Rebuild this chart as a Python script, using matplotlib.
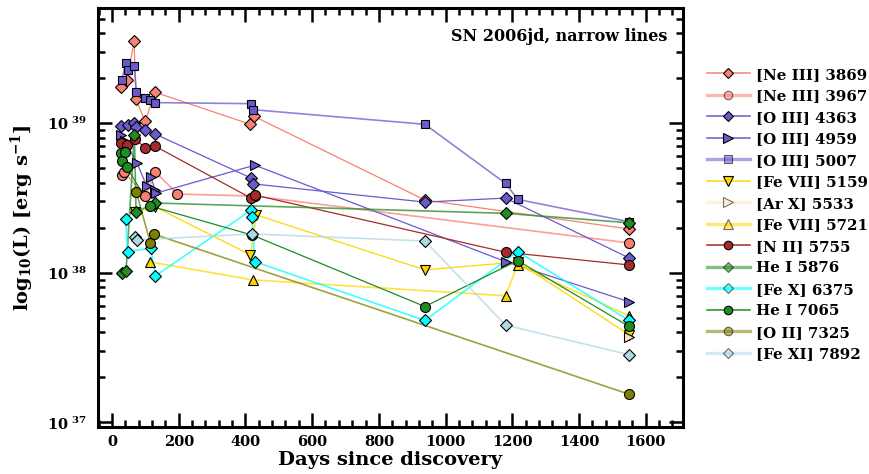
import numpy as np
import matplotlib
matplotlib.use("Agg")
import matplotlib.pyplot as plt
from matplotlib.ticker import FixedLocator, LogLocator, NullFormatter, MultipleLocator, FuncFormatter
from matplotlib.lines import Line2D

plt.rcParams['font.family'] = ['DejaVu Serif']
plt.rcParams['font.weight'] = 'bold'
plt.rcParams['mathtext.fontset'] = 'dejavuserif'

# ---- data: days since discovery and log10 luminosity ----
neiii3869_days = [27, 45, 66, 72, 99, 129, 415, 425, 938, 1550]
neiii3869_logL = [39.24, 39.29, 39.547, 39.16, 39.013, 39.207, 38.993, 39.047, 38.487, 38.293]

neiii3967_days = [29, 36, 100, 130, 196, 428, 1550]
neiii3967_logL = [38.653, 38.675, 38.515, 38.675, 38.527, 38.513, 38.2]

oiii4363_days = [27, 47, 67, 73, 100, 130, 418, 422, 938, 1180, 1550]
oiii4363_logL = [38.982, 38.987, 39.0, 38.973, 38.955, 38.927, 38.633, 38.595, 38.473, 38.5, 38.1]

oiii4959_days = [27, 40, 75, 104, 117, 129, 132, 428, 1180, 1550]
oiii4959_logL = [38.92, 38.88, 38.733, 38.58, 38.64, 38.553, 38.533, 38.72, 38.075, 37.807]

oiii5007_days = [29, 41, 47, 67, 73, 100, 114, 130, 418, 422, 938, 1180, 1216, 1550]
oiii5007_logL = [39.287, 39.402, 39.353, 39.38, 39.209, 39.171, 39.153, 39.138, 39.131, 39.091,
                 38.993, 38.598, 38.491, 38.342]

fevii5159_days = [70, 130, 415, 433, 938, 1216, 1550]
fevii5159_logL = [38.407, 38.44, 38.12, 38.387, 38.02, 38.073, 37.587]

arx5533_days = [1550]
arx5533_logL = [37.571]

fevii5721_days = [114, 422, 1180, 1216, 1550]
fevii5721_logL = [38.073, 37.953, 37.847, 38.053, 37.713]

nii5755_days = [26, 44, 70, 99, 129, 418, 428, 1180, 1550]
nii5755_logL = [38.871, 38.853, 38.893, 38.837, 38.847, 38.498, 38.52, 38.138, 38.053]

hei5876_days = [29, 42, 67, 72, 129, 1180, 1550]
hei5876_logL = [37.997, 38.01, 38.92, 38.407, 38.467, 38.398, 38.335]

fex6375_days = [41, 47, 116, 130, 418, 420, 428, 938, 1216, 1550]
fex6375_logL = [38.358, 38.14, 38.167, 37.98, 38.42, 38.373, 38.075, 37.682, 38.142, 37.682]

hei7065_days = [26, 29, 39, 44, 114, 420, 938, 1216, 1550]
hei7065_logL = [38.798, 38.747, 38.807, 38.709, 38.447, 38.253, 37.775, 38.082, 37.642]

oii7325_days = [73, 115, 127, 1550]
oii7325_logL = [38.54, 38.198, 38.258, 37.189]

fexi7892_days = [70, 74, 420, 938, 1180, 1550]
fexi7892_logL = [38.243, 38.22, 38.26, 38.213, 37.651, 37.453]

labels = ['[Ne III] 3869', '[Ne III] 3967', '[O III] 4363', '[O III] 4959', '[O III] 5007',
          '[Fe VII] 5159', '[Ar X] 5533', '[Fe VII] 5721', '[N II] 5755', 'He I 5876',
          '[Fe X] 6375', 'He I 7065', '[O II] 7325', '[Fe XI] 7892']
series = [(neiii3869_days, neiii3869_logL), (neiii3967_days, neiii3967_logL),
          (oiii4363_days, oiii4363_logL), (oiii4959_days, oiii4959_logL),
          (oiii5007_days, oiii5007_logL), (fevii5159_days, fevii5159_logL),
          (arx5533_days, arx5533_logL), (fevii5721_days, fevii5721_logL),
          (nii5755_days, nii5755_logL), (hei5876_days, hei5876_logL),
          (fex6375_days, fex6375_logL), (hei7065_days, hei7065_logL),
          (oii7325_days, oii7325_logL), (fexi7892_days, fexi7892_logL)]

colors = ['salmon', 'salmon', 'slateblue', 'slateblue', 'slateblue', 'gold', 'bisque', 'gold',
          'brown', 'forestgreen', 'cyan', 'forestgreen', 'olive', 'lightblue']
markers = ['D', 'o', 'D', '>', 's', 'v', '>', '^', 'o', 'D', 'D', 'o', 'o', 'D']
thick = [False, True, False, False, True, False, True, True, False, True, True, False, True, True]
msizes = {'D': 6.2, 'o': 7.2, '>': 7.8, 's': 6.2, 'v': 7.8, '^': 7.8}

fig = plt.figure(figsize=(8.69, 4.74), dpi=100)
ax = fig.add_axes([0.1128, 0.0992, 0.786 - 0.1128, 0.983 - 0.0992])

for (d, l), lab, c, m, th in zip(series, labels, colors, markers, thick):
    L = 10.0 ** np.array(l)
    ax.plot(d, L, color=c, lw=1.2 if th else 0.9, alpha=0.75 if th else 1.0, zorder=2)
    ax.plot(d, L, linestyle='none', marker=m, markersize=msizes[m],
            markerfacecolor=c, markeredgecolor='black', markeredgewidth=0.8, zorder=3)

handles = []
for lab, c, m, th in zip(labels, colors, markers, thick):
    handles.append(Line2D([0], [0], color=c, lw=2.4 if th else 1.1, alpha=0.55 if th else 1.0,
                          marker=m, markersize=msizes[m] * 0.85, markerfacecolor=c,
                          markeredgecolor='black', markeredgewidth=0.8))

ax.set_yscale('log')
ax.set_xlim(-42, 1712)
ax.set_ylim(10 ** 36.97, 10 ** 39.77)

ax.xaxis.set_major_locator(MultipleLocator(200))
ax.xaxis.set_minor_locator(MultipleLocator(40))
ax.yaxis.set_major_locator(FixedLocator([1e37, 1e38, 1e39]))
ax.yaxis.set_minor_locator(LogLocator(base=10, subs=np.arange(2, 10)))
ax.yaxis.set_minor_formatter(NullFormatter())
ax.yaxis.set_major_formatter(FuncFormatter(
    lambda v, p: r'$\mathbf{10^{\ %d}}$' % int(round(np.log10(v)))))

ax.tick_params(which='both', direction='in', top=True, right=True, width=1.8, labelsize=10.5)
ax.tick_params(which='major', length=10)
ax.tick_params(which='minor', length=5)
ax.tick_params(axis='x', pad=6)
ax.tick_params(axis='y', pad=8)
for lbl in ax.get_xticklabels():
    lbl.set_fontweight('bold')
for s in ax.spines.values():
    s.set_linewidth(2.2)

ax.set_xlabel('Days since discovery', fontsize=14, fontweight='bold', labelpad=1)
ax.set_ylabel(r'$\mathbf{log_{10}}$(L) [erg s$^{\mathbf{-1}}$]', fontsize=14, fontweight='bold', labelpad=8)

ax.text(0.974, 0.933, 'SN 2006jd, narrow lines', transform=ax.transAxes, ha='right', va='center',
        fontsize=11.5, fontweight='bold')

leg = ax.legend(handles=handles, labels=labels, loc='upper left', bbox_to_anchor=(1.03, 0.872),
                frameon=False, fontsize=10.8, handlelength=2.9, labelspacing=0.5,
                handletextpad=0.4, borderaxespad=0.0)
for t in leg.get_texts():
    t.set_fontweight('bold')

fig.savefig('out.png', dpi=100)
